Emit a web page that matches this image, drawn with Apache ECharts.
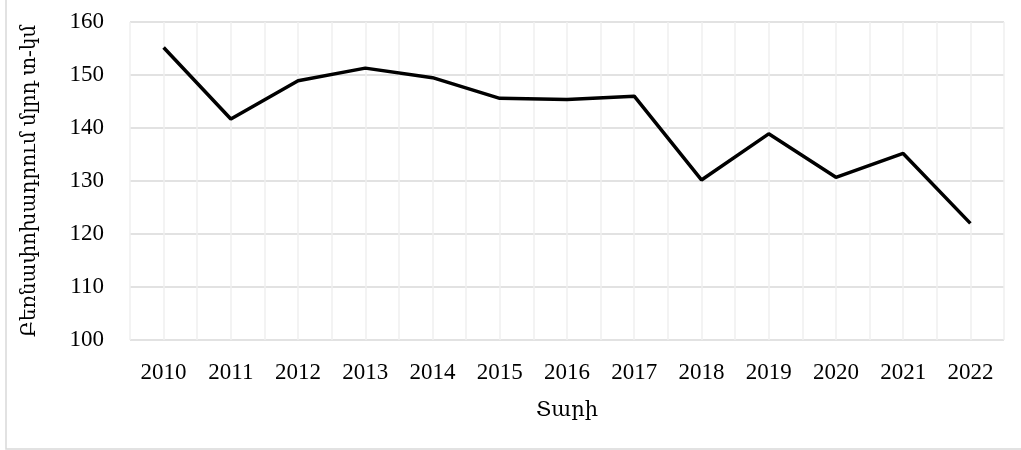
<!DOCTYPE html>
<html><head><meta charset="utf-8">
<script src="https://cdn.jsdelivr.net/npm/echarts@6/dist/echarts.min.js"></script>
<style>html,body{margin:0;padding:0;background:#fff}#c{width:1021px;height:450px}</style>
</head><body><div id="c"></div>
<script>
const years = [2010,2011,2012,2013,2014,2015,2016,2017,2018,2019,2020,2021,2022];
const values = [155.2,141.7,148.9,151.3,149.5,145.6,145.4,146.0,130.2,138.9,130.7,135.2,122.0];
const yTicks = [100,110,120,130,140,150,160];
const xTitle = 'Տարի';
const yTitle = 'Բեռնափոխադրում մլրդ տ-կմ';
const FONT = 'Liberation Serif, DejaVu Serif, serif';
const chart = echarts.init(document.getElementById('c'));
chart.setOption({
  animation:false,
  backgroundColor:'#fff',
  graphic:[{type:'rect',shape:{x:6,y:-5,width:1030,height:454},style:{fill:'none',stroke:'#d9d9d9',lineWidth:1.5},silent:true}],
  grid:{left:130,right:17,top:22,bottom:110},
  xAxis:{type:'value',min:2009.5,max:2022.5,interval:0.5,
    name:xTitle,nameLocation:'middle',nameGap:60,
    nameTextStyle:{fontFamily:FONT,fontSize:21,color:'#000'},
    axisLine:{show:false},axisTick:{show:false},
    axisLabel:{fontFamily:FONT,fontSize:23,color:'#000',margin:21,
      formatter:v=>Number.isInteger(v)&&years.includes(v)?String(v):''},
    splitLine:{show:true,lineStyle:{color:'#efefef',width:1.5}}},
  yAxis:{type:'value',min:yTicks[0],max:yTicks[yTicks.length-1],interval:10,
    name:yTitle,nameLocation:'middle',nameGap:90,
    nameTextStyle:{fontFamily:FONT,fontSize:20,color:'#000'},
    axisLine:{show:false},axisTick:{show:false},
    axisLabel:{fontFamily:FONT,fontSize:23,color:'#000',margin:26},
    splitLine:{show:true,lineStyle:{color:'#d9d9d9',width:1.5}}},
  series:[{type:'line',data:years.map((y,i)=>[y,values[i]]),symbol:'none',
    lineStyle:{color:'#000',width:3.5},z:5}]
});
</script></body></html>
